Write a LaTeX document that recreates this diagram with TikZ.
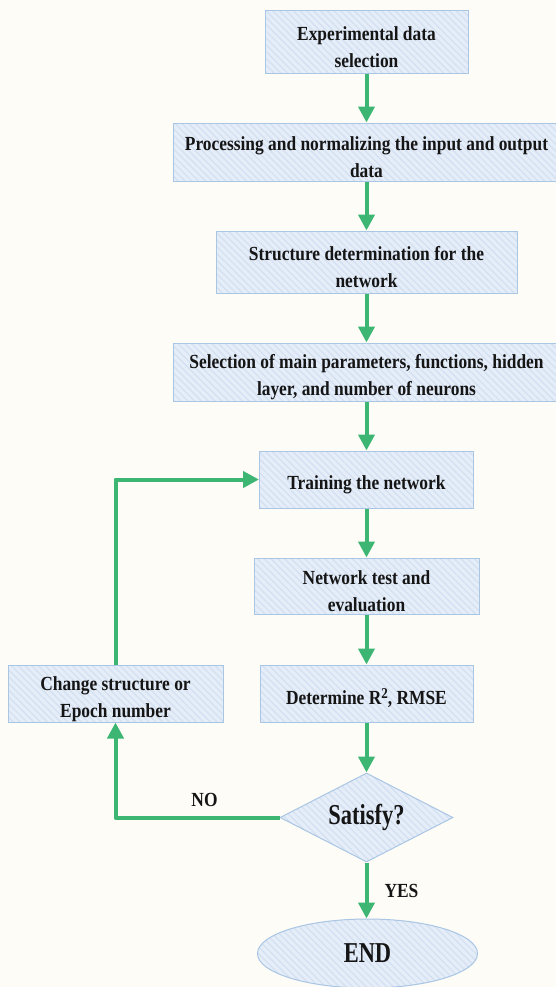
\documentclass[tikz,border=0pt]{standalone}
\usepackage{fontspec}
\usetikzlibrary{shapes.geometric,arrows.meta,patterns.meta}
\newfontfamily\boxfont{Liberation Serif}[FakeStretch=0.87]
\newfontfamily\bigfont{Liberation Serif}[FakeStretch=0.78]
\definecolor{bgcol}{HTML}{FDFCF7}
\definecolor{boxfill}{HTML}{E5EDF8}
\definecolor{hatchcol}{HTML}{D3E0F1}
\definecolor{boxline}{HTML}{A9C6E4}
\definecolor{flowgreen}{RGB}{60,182,114}
\definecolor{txt}{HTML}{151515}
\newcommand\dn{\rule{0pt}{12.5pt}}
\newcommand\suptwo{\raisebox{3pt}{\fontsize{7.5pt}{8pt}\selectfont 2}}
\tikzset{
  shaded/.style={draw=boxline, line width=0.5pt, preaction={fill=boxfill},
    pattern={Lines[angle=-45,distance=2.4pt,line width=0.6pt]}, pattern color=hatchcol},
  box/.style={shaded, rectangle, inner sep=0pt, align=center, text=txt,
    font=\boxfont\bfseries\fontsize{10pt}{13.5pt}\selectfont},
  decision/.style={shaded, diamond, shape aspect=2, inner sep=0pt, text=txt,
    font=\bigfont\bfseries\fontsize{14.4pt}{17pt}\selectfont},
  terminal/.style={shaded, ellipse, inner sep=0pt, text=txt,
    font=\bigfont\bfseries\fontsize{14.4pt}{17pt}\selectfont},
  lbl/.style={text=txt, inner sep=0pt, font=\boxfont\bfseries\fontsize{10pt}{12pt}\selectfont},
  flow/.style={draw=flowgreen, line width=2pt, line join=round,
    -{Triangle[length=8pt,width=8pt]}}
}
\begin{document}
\begin{tikzpicture}[x=0.5pt,y=-0.5pt]
\fill[bgcol] (0,0) rectangle (556,987);
\useasboundingbox (0,0) rectangle (556,987);

\node[box, minimum width=101.5pt, minimum height=31.5pt] (b1) at (366.5,41.5) {\dn Experimental data\\selection};
\node[box, minimum width=193.5pt, minimum height=29pt] (b2) at (366.5,152) {\dn Processing and normalizing the input and output\\data};
\node[box, minimum width=150.5pt, minimum height=31pt] (b3) at (366.5,262) {\dn Structure determination for the\\network};
\node[box, minimum width=193.5pt, minimum height=29pt] (b4) at (366.5,372) {\dn Selection of main parameters, functions, hidden\\layer, and number of neurons};
\node[box, minimum width=107pt, minimum height=28.5pt] (b5) at (366.5,479.5) {\dn Training the network};
\node[box, minimum width=112.5pt, minimum height=28pt] (b6) at (366.5,586) {\dn Network test and\\evaluation};
\node[box, minimum width=106.5pt, minimum height=28.5pt] (b7) at (366.5,693.5) {\dn Determine R\suptwo, RMSE};
\node[box, minimum width=107.5pt, minimum height=28.5pt] (ch) at (115.5,693.5) {\dn Change structure or\\Epoch number};
\node[decision, minimum width=86.5pt, minimum height=44.5pt] (d) at (366.5,817.5) {Satisfy?};
\node[terminal, minimum width=110pt, minimum height=34.5pt] (e) at (367.5,953.5) {END};

\draw[flow] (b1.south) -- (b1.south |- b2.north);
\draw[flow] (b2.south) -- (b2.south |- b3.north);
\draw[flow] (b3.south) -- (b3.south |- b4.north);
\draw[flow] (b4.south) -- (b4.south |- b5.north);
\draw[flow] (b5.south) -- (b5.south |- b6.north);
\draw[flow] (b6.south) -- (b6.south |- b7.north);
\draw[flow] (b7.south) -- (b7.south |- d.north);
\draw[flow] (d.south) -- (d.south |- e.north);
\draw[flow] (d.west) -| (ch.south);
\draw[flow] (ch.north) |- (b5.west);

\node[lbl] (no) at (204.5,800) {NO};
\node[lbl] (yes) at (401.5,891) {YES};
\end{tikzpicture}
\end{document}
